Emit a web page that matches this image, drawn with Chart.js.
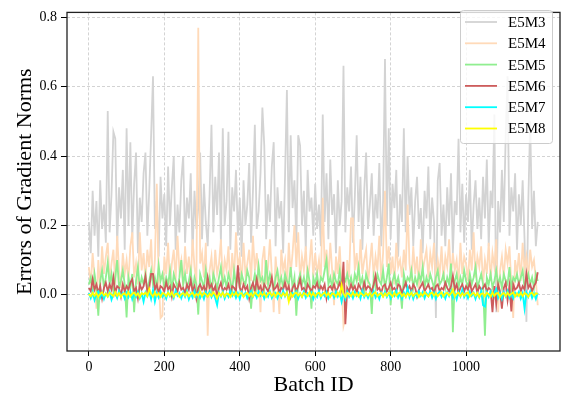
<!DOCTYPE html>
<html>
<head>
<meta charset="utf-8">
<script src="https://cdn.jsdelivr.net/npm/chart.js@4"></script>
<style>
  html, body { margin: 0; padding: 0; background: #fff; }
</style>
</head>
<body>
<canvas id="gradChart" width="568" height="402"></canvas>
<script>
// one sample every 5 batches
const batchStep = 5;

const seriesNames = ['E5M3', 'E5M4', 'E5M5', 'E5M6', 'E5M7', 'E5M8'];

const e5m3 = [
  .21,.12,.30,.17,.27,.11,.33,.19,.26,.15,
  .53,.18,.29,.47,.45,.14,.31,.22,.36,.13,
  .48,.20,.44,.16,.32,.41,.12,.28,.21,.35,
  .41,.17,.30,.46,.63,.19,.27,.11,.34,.22,
  .29,.14,.37,.20,.31,.40,.13,.26,.18,.33,
  .40,.15,.28,.22,.35,.12,.30,.19,.25,.41,
  .16,.32,.21,.14,.29,.49,.18,.34,.23,.41,
  .15,.48,.20,.27,.47,.13,.31,.24,.36,.17,
  .28,.11,.33,.20,.26,.38,.15,.30,.49,.19,
  .24,.35,.54,.43,.16,.29,.21,.37,.44,.14,
  .31,.22,.27,.12,.34,.59,.18,.46,.25,.33,
  .15,.46,.43,.20,.30,.13,.36,.24,.28,.17,
  .32,.19,.26,.14,.52,.21,.35,.16,.39,.23,
  .29,.12,.33,.20,.27,.66,.18,.31,.24,.37,
  .15,.28,.46,.21,.34,.13,.30,.41,.19,.26,
  .35,.17,.29,.22,.38,.14,.27,.68,.20,.48,
  .16,.32,.25,.36,.11,.29,.21,.48,.18,.40,
  .23,.31,.14,.27,.34,.19,.25,.12,.30,.22,
  .37,.16,.28,.21,-.067,.33,.38,.17,.26,.14,
  .31,.20,.35,.12,.27,.23,.45,.18,.32,.15,
  .29,.21,.36,.13,.26,.33,.19,.28,.16,.34,
  .22,.39,.14,.30,.25,.52,-.05,.27,.18,.36,
  .21,.46,.63,.17,.31,.24,.35,.13,.29,.20,
  .33,.16,-.078,.27,.50,.19,.30,.14,.21
];

const e5m4 = [
  .08,.03,.12,.05,-.04,.10,.02,.14,.06,.11,
  .15,.04,.09,.13,.03,.17,.07,.02,.12,.06,
  .10,.04,.14,.18,.05,.09,.03,.18,.07,.12,
  .04,.13,.08,.16,.02,.10,.32,.05,-.067,-.06,
  .11,.06,.15,.03,.09,.13,.04,.17,.07,.10,
  .02,.14,.06,.11,.04,.16,.08,.03,.77,.09,
  .12,.05,.15,-.118,.07,.11,.03,.13,.06,.09,
  .16,.04,.10,.07,.14,.02,.12,.05,.18,.08,
  .11,.03,.15,.06,.09,.13,.04,.17,.07,.12,
  .05,-.05,.10,.14,.03,.08,.16,.06,-.05,.11,
  .04,-.055,.13,.07,.10,.02,.15,.06,.12,.20,
  .08,.18,.04,.11,.07,.14,.03,.09,.16,.05,
  .12,.06,.10,.04,.28,.08,.13,.05,.15,.07,
  -.03,.11,.06,.14,.03,-.09,-.067,.10,.05,.22,
  .22,.07,.12,.04,.16,.06,.10,.13,.03,.09,
  .15,.05,.11,.07,.17,.04,.12,.30,.08,.14,
  .06,.11,.03,.15,.08,.10,.05,.13,.07,.26,
  .09,.04,.14,.06,.11,.02,.16,.07,.10,.13,
  .05,.12,.08,.15,.03,.10,.06,.14,.04,.11,
  .08,.16,.05,.12,.07,.10,.03,.15,.06,.11,
  .09,.04,.13,.07,.18,.05,.11,.08,.14,.03,
  .10,.06,.15,.04,.12,.08,.16,-.05,.07,.11,
  .05,.13,.09,.14,.03,-.067,.10,.06,.12,.04,
  .15,.07,.11,.05,.13,.08,.10,.04,-.03
];

const e5m5 = [
  .03,.05,.01,.06,.02,-.06,.04,.07,.02,.05,
  .092,.03,.06,.01,.05,.10,.02,.04,.07,.03,
  -.065,.05,.02,.06,-.05,.04,.08,.02,.05,.03,
  .06,.01,.04,.07,.03,.05,.02,.085,.04,.06,
  .02,.05,.03,.07,.01,.06,.04,.02,.05,.10,
  .03,.06,.02,.04,.07,.01,.05,.03,-.057,.06,
  .04,.02,.07,.03,.05,.01,.06,.04,.02,.05,
  .08,.03,.05,.02,.06,.04,.01,.07,.03,.05,
  .02,.06,.04,.03,.07,.05,-.04,.03,.06,.02,
  .083,.04,.05,.02,.10,.03,.06,.04,.01,.05,
  .07,.03,.05,.02,.06,.04,.03,.08,.02,.05,
  -.06,.04,.06,.03,.05,.02,.07,.04,-.04,.05,
  .03,.06,.02,.05,.04,.07,.10,.03,.05,.02,
  .06,.04,.03,.07,.02,.05,.04,.06,.03,.05,
  .02,.06,.04,.08,.03,.05,.01,.06,.04,.03,
  -.055,.05,.02,.06,.04,.03,.07,.02,.05,.09,
  -.03,.04,.06,.03,.05,.02,-.04,.06,.03,.05,
  .04,.07,.02,.05,.03,.06,.04,.08,.02,.05,
  .03,.06,.04,.02,.05,.07,.03,.04,.06,.02,
  .05,.03,.09,-.108,.04,.06,.02,.05,.03,.07,
  .04,.02,.06,.03,.05,.08,.02,.04,.06,.03,
  -.118,.05,.03,.06,.02,.04,.07,.03,.05,.02,
  .06,.04,.03,.08,.02,.05,.04,.06,.03,.05,
  .07,.02,.04,.06,.03,.05,.02,.06,.04
];

const e5m6 = [
  .02,.01,.045,.015,.03,.005,.025,-.01,.02,.035,
  .01,.03,.015,.05,.005,.025,.02,-.005,.03,.01,
  .025,.015,.035,.045,.01,.02,-.01,.03,.015,.025,
  .053,.01,.02,.06,.06,.015,.03,.005,.025,.02,
  .01,.036,.015,.025,-.005,.03,.02,.01,.035,.015,
  .02,.005,.03,.015,.042,.01,.025,-.01,.02,.03,
  .015,.025,.005,.05,.02,.03,.01,.025,-.005,.02,
  .035,.01,.02,.015,.03,.005,.025,.02,.01,.085,
  .02,.01,.03,.015,.025,-.01,.02,.035,.01,.045,
  .015,.025,.005,.03,.02,.01,.025,.05,.015,.02,
  .03,.005,.02,.015,.035,.01,.025,-.005,.02,.03,
  .01,.025,.045,.015,.02,.005,.03,.02,.01,.025,
  .02,.035,.01,.025,.015,.03,-.01,.02,.025,.015,
  .03,.01,.02,.035,.015,.095,-.085,.02,.01,.03,
  .015,.025,.005,.03,.02,.01,.035,.015,.025,.02,
  .01,.03,.055,.015,.02,.005,.025,.03,.01,.02,
  .035,.015,.02,.01,.03,.025,.005,.02,.035,.015,
  .025,.01,.03,.02,-.005,.015,.025,.035,.01,.02,
  .03,.015,.02,.005,.025,.03,.01,.02,.015,.035,
  .02,.01,.025,.055,.015,.03,.005,.02,.03,.01,
  .025,.015,.035,.01,.02,.03,.005,.025,.015,.02,
  .03,.01,.02,.015,-.05,.025,-.025,.03,.01,-.04,
  .02,.035,-.015,.025,-.048,.03,.015,.02,.035,.01,
  .025,.015,.06,.02,.03,.01,.025,.035,.065
];

const e5m7 = [
  .005,-.01,.008,-.015,.003,.01,-.008,.006,-.012,.004,
  -.005,.009,-.014,.002,.007,-.009,.011,-.004,.005,-.011,
  .006,-.007,.01,-.013,.003,-.006,.008,-.01,.004,-.02,
  .007,-.005,.009,-.012,.014,-.02,.005,-.008,.01,-.006,
  .003,-.011,.008,-.004,.006,-.009,.012,-.003,.005,-.01,
  .007,-.006,.009,-.013,.004,-.008,.011,-.005,.006,-.009,
  .003,-.012,.008,-.004,.01,-.007,.005,-.01,-.03,.006,
  -.005,.009,-.011,.004,-.006,.012,-.003,.007,-.009,.005,
  -.012,.008,-.004,.006,-.01,.003,.011,-.006,.005,-.008,
  .009,-.003,.007,-.011,.004,-.006,.01,-.009,.002,.006,
  -.01,.005,-.007,.012,-.004,.008,-.013,.003,.006,-.005,
  .009,-.011,.004,-.006,.01,-.008,.005,-.003,.007,-.012,
  .004,-.006,.011,-.009,.005,-.004,.008,-.01,.003,.006,
  -.008,.01,-.005,.007,-.02,.004,-.012,.009,-.006,.005,
  -.01,.008,-.003,.006,-.011,.012,-.007,.004,-.009,.006,
  -.005,.011,-.008,.003,-.012,.007,-.004,.009,-.006,.005,
  -.01,.006,-.003,.012,-.008,.004,-.011,.007,-.005,.02,
  -.007,.009,-.012,.004,-.006,.01,-.003,.008,-.01,.005,
  -.004,.011,-.008,.006,-.012,.003,.009,-.006,.005,-.011,
  .007,-.004,.01,-.009,.005,-.013,.008,-.005,.015,-.007,
  .004,-.01,.009,-.003,.006,-.012,.005,-.008,.011,-.03,
  -.034,.007,-.006,.01,-.004,.006,.017,-.009,.005,-.012,
  .008,-.005,.011,-.008,.004,-.01,.006,-.003,.009,-.011,
  .005,-.04,.007,-.006,.01,-.009,.004,-.012,.006
];

const e5m8 = [
  .002,-.004,.006,-.003,.005,-.006,.003,.007,-.002,.004,
  -.005,.006,.001,-.004,.008,-.003,.005,-.006,.002,.004,
  -.003,.007,-.005,.003,.006,-.002,.004,-.007,.005,.001,
  .006,-.004,.017,.002,-.005,.007,-.003,.004,-.006,.005,
  .003,-.004,.006,-.002,.008,-.005,.003,.004,-.006,.002,
  .005,-.003,.007,-.004,.002,.006,-.005,.003,-.002,.008,
  -.004,.005,.002,-.006,.004,-.003,.007,.001,-.01,.005,
  -.003,.006,-.005,.004,.002,-.006,.005,-.002,.007,-.004,
  .003,.005,-.006,.002,.006,-.003,.004,-.005,.007,.001,
  -.004,.006,-.002,.005,-.006,.003,.007,-.003,.004,-.005,
  .006,.002,-.004,.005,-.003,.007,-.02,.004,-.005,.003,
  .006,-.002,.004,-.006,.005,.002,-.004,.007,-.003,.005,
  -.005,.003,.006,-.004,.002,.007,-.003,.005,-.006,.004,
  .002,-.005,.006,-.003,.028,.004,-.006,.005,.002,-.004,
  .007,-.003,.004,-.005,.006,.001,-.004,.005,-.002,.006,
  -.005,.003,.007,-.004,.002,.005,-.006,.004,-.003,.006,
  .002,-.005,.006,-.003,.004,.007,-.004,.003,-.006,.005,
  -.002,.006,-.004,.003,.005,-.006,.004,-.003,.007,.001,
  -.005,.004,.006,-.003,.005,-.004,.002,.007,-.005,.003,
  .006,-.002,.004,.014,-.005,.003,.006,-.004,.005,-.003,
  .004,.007,-.005,.002,.006,-.003,.005,-.006,.003,.004,
  -.004,.006,.002,-.005,.007,-.003,.004,.005,-.006,.002,
  .005,-.004,.006,-.002,.003,.007,-.005,.004,-.003,.006,
  -.004,.005,.002,-.006,.004,.006,-.003,.005,.002
];

const xTicks = [0, 200, 400, 600, 800, 1000];
const yTicks = [0, 0.2, 0.4, 0.6, 0.8];

const toPoints = vals => vals.map((v, i) => ({ x: i * batchStep, y: v }));

Chart.defaults.font.family = "'Liberation Serif', 'Times New Roman', serif";
Chart.defaults.color = '#000';

// legend box in the upper right corner of the plot
const boxLegend = {
  id: 'boxLegend',
  afterDatasetsDraw(chart) {
    const ctx = chart.ctx;
    const x0 = 460, y0 = 10, w = 92, h = 133;
    ctx.save();
    ctx.beginPath();
    ctx.roundRect(x0 + 0.5, y0 + 0.5, w, h, 3);
    ctx.fillStyle = 'rgba(255,255,255,0.8)';
    ctx.fill();
    ctx.strokeStyle = '#cccccc';
    ctx.lineWidth = 1;
    ctx.stroke();
    ctx.font = "15px 'Liberation Serif'";
    ctx.textBaseline = 'middle';
    ctx.fillStyle = '#000';
    chart.data.datasets.forEach((ds, i) => {
      const y = 22 + i * 21.3;
      ctx.beginPath();
      ctx.moveTo(465, y);
      ctx.lineTo(497, y);
      ctx.strokeStyle = ds.borderColor;
      ctx.lineWidth = ds.borderWidth;
      ctx.stroke();
      ctx.fillText(ds.label, 508, y + 1);
    });
    ctx.restore();
  }
};

// full box around the plot area
const frame = {
  id: 'frame',
  afterDatasetsDraw(chart) {
    const { left, top, right, bottom } = chart.chartArea;
    const ctx = chart.ctx;
    ctx.save();
    ctx.strokeStyle = '#222';
    ctx.lineWidth = 1.3;
    ctx.strokeRect(left, top, right - left, bottom - top);
    ctx.restore();
  }
};

const lineSet = (label, vals, color, order) => ({
  label,
  data: toPoints(vals),
  borderColor: color,
  backgroundColor: color,
  borderWidth: 1.8,
  pointRadius: 0,
  tension: 0,
  fill: false,
  order
});

new Chart(document.getElementById('gradChart'), {
  type: 'line',
  data: {
    datasets: [
      lineSet(seriesNames[0], e5m3, '#d3d3d3', 6),
      lineSet(seriesNames[1], e5m4, '#ffdab9', 5),
      lineSet(seriesNames[2], e5m5, '#90ee90', 4),
      lineSet(seriesNames[3], e5m6, '#cd5c5c', 3),
      lineSet(seriesNames[4], e5m7, '#00ffff', 2),
      lineSet(seriesNames[5], e5m8, '#ffff00', 1)
    ]
  },
  options: {
    responsive: false,
    animation: false,
    layout: { padding: { left: 0, right: 8, top: 2, bottom: 0 } },
    plugins: {
      legend: { display: false },
      tooltip: { enabled: false }
    },
    scales: {
      x: {
        type: 'linear',
        min: -58,
        max: 1249,
        afterBuildTicks: s => { s.ticks = xTicks.map(v => ({ value: v })); },
        afterFit: s => { s.height = 51; },
        ticks: { font: { size: 14 }, padding: 3, maxRotation: 0, autoSkip: false, callback: v => String(v) },
        grid: { color: '#c8c8c8', lineWidth: 0.8, tickLength: 5, tickColor: '#000', tickWidth: 1 },
        border: { display: false, dash: [3, 2] },
        title: { display: true, text: 'Batch ID', font: { size: 22 }, padding: { top: 0, bottom: 4 } }
      },
      y: {
        min: -0.162,
        max: 0.814,
        afterBuildTicks: s => { s.ticks = yTicks.map(v => ({ value: v })); },
        afterFit: s => { s.width = 67; },
        ticks: { font: { size: 14 }, padding: 4, callback: v => v.toFixed(1) },
        grid: { color: '#c8c8c8', lineWidth: 0.8, tickLength: 6, tickColor: '#000', tickWidth: 1 },
        border: { display: false, dash: [3, 2] },
        title: { display: true, text: 'Errors of Gradient Norms', font: { size: 22 }, padding: { top: 12, bottom: 0 } }
      }
    }
  },
  plugins: [frame, boxLegend]
});
</script>
</body>
</html>
